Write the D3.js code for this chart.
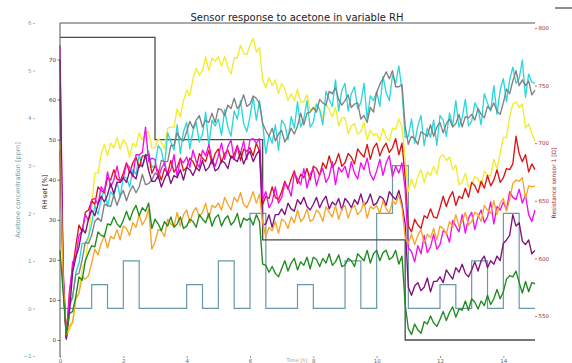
<!DOCTYPE html>
<html><head><meta charset="utf-8">
<script src="https://cdn.jsdelivr.net/npm/d3@7"></script>
<style>body{margin:0;background:#fff}svg{display:block}text{font-family:"DejaVu Sans",sans-serif}</style>
</head><body><svg id="c" width="572" height="363"></svg>
<script>
const title = "Sensor response to acetone in variable RH";
const xTicks = [0, 2, 4, 6, 8, 10, 12, 14];
const acetoneTicks = [-1, 0, 1, 2, 3, 4, 5, 6];
const rhTicks = [0, 10, 20, 30, 40, 50, 60, 70];
const resTicks = [550, 600, 650, 700, 750, 800];

// RH set-point steps (time [h], RH [%])
const rhTime = [0, 3.0, 6.4, 10.9, 15.0];
const rhValue = [75.5, 50, 25, 0, 0];

// acetone concentration steps (time [h], ppm)
const acTime = [0, 1.0, 1.5, 2.0, 2.5, 4.0, 4.5, 5.0, 5.5, 6.0, 6.5, 7.5, 8.0, 9.0, 9.5, 10.0, 10.5, 11.0, 12.0, 12.5, 13.0, 13.5, 14.0, 14.5, 15.0];
const acValue = [0, 0.5, 0, 1, 0, 0.5, 0, 1, 0, 2, 0, 0.5, 0, 1, 0, 2, 3, 0, 0.5, 0, 1, 0, 2, 0, 0];

// sensor resistance [Ohm], one sample every 0.1 h from 0 to 15 h
const sampleStep = 0.1;
const yellow = [729,590,533,538,544,564,570,592,597,618, 645,674,674,691,699,689,700,696,705,695, 703,699,688,700,697,709,703,709,710,696, 696,704,701,695,713,714,714,730,723,737, 746,741,756,765,759,763,775,763,774,771, 775,767,775,766,760,774,774,785,778,777, 785,791,779,783,755,748,757,750,755,743, 752,747,737,743,737,747,736,736,742,729, 729,734,730,722,734,729,723,731,715,722, 722,708,715,717,708,710,718,703,711,707, 708,702,713,705,702,713,712,721,714,686, 658,669,661,671,677,666,675,672,680,673, 688,690,685,688,677,681,664,666,674,662, 664,671,669,662,676,672,672,686,678,691, 705,705,723,734,736,731,734,713,717,708, 702];
const cyan = [750,580,531,558,566,588,596,613,613,619, 630,646,638,651,660,645,658,654,667,653, 671,670,662,677,673,690,679,688,693,679, 681,698,694,680,709,701,694,716,691,710, 718,695,711,718,701,708,727,698,720,715, 721,707,729,714,706,728,721,737,717,710, 723,740,720,737,717,691,707,700,716,694, 720,716,703,723,713,736,714,721,737,714, 718,734,729,716,745,738,732,755,728,746, 752,728,743,749,730,735,752,721,741,737, 745,732,758,744,737,759,752,767,746,705, 706,721,700,715,724,698,713,705,720,698, 724,720,706,726,715,737,714,722,738,715, 719,735,730,716,743,735,728,750,725,746, 756,736,755,766,752,756,772,740,760,753, 752];
const grey = [740,575,530,560,567,586,587,599,614,613, 620,632,635,632,647,646,645,655,646,654, 659,650,658,663,657,662,673,664,665,668, 674,672,685,684,684,698,698,709,704,702, 710,719,713,720,724,714,720,718,726,718, 730,729,724,733,730,739,730,734,742,732, 734,741,739,734,717,711,706,713,702,708, 711,701,706,713,708,715,726,716,726,727, 731,727,738,735,733,745,743,748,738,733, 737,742,731,734,735,721,724,718,731,727, 744,751,756,762,756,763,749,749,751,715, 699,706,704,699,710,708,706,716,706,714, 718,709,717,721,714,717,725,714,723,722, 725,720,730,725,722,732,729,735,728,725, 735,747,743,754,763,750,755,750,754,742, 746];
const red = [694,585,532,572,591,611,629,623,640,642, 650,647,662,659,657,670,668,677,669,667, 674,683,674,683,688,679,689,689,690,674, 680,676,668,678,674,685,675,679,687,676, 679,687,684,678,691,687,684,694,682,691, 695,683,691,694,687,690,698,685,695,693, 696,689,700,693,647,654,652,662,653,651, 658,667,660,669,676,665,673,670,678,668, 680,678,672,683,678,689,679,683,691,680, 683,691,688,682,695,691,688,699,686,696, 700,689,696,700,692,696,704,690,700,670, 628,623,634,629,626,637,635,643,636,635, 644,654,645,653,658,646,654,652,661,653, 666,663,657,667,661,672,663,668,677,666, 670,678,677,682,706,691,684,690,675,682, 677];
const magenta = [785,590,531,568,597,601,620,624,638,633, 651,652,647,662,658,675,662,668,680,666, 670,682,679,671,690,690,692,714,684,687, 686,669,678,683,672,677,690,671,686,683, 688,679,694,684,679,694,689,699,686,680, 689,700,686,697,703,686,697,691,702,686, 703,704,700,704,651,658,644,649,662,648, 653,665,662,654,674,669,664,678,661,673, 678,663,673,678,666,671,684,664,679,675, 680,670,684,674,669,683,677,687,673,668, 676,686,672,683,689,671,680,674,683,660, 609,606,597,611,604,620,605,610,621,608, 612,624,622,614,633,628,623,638,622,635, 640,625,636,642,631,636,649,630,645,642, 649,642,658,653,651,660,648,655,638,632, 642];
const purple = [772,580,530,554,588,601,610,626,622,634, 642,637,647,654,649,655,665,656,666,666, 670,666,676,672,669,681,680,690,676,667, 667,672,662,669,675,665,672,670,677,668, 679,677,672,679,676,685,676,679,686,676, 678,685,683,678,689,686,684,692,682,689, 693,684,690,694,629,630,638,627,638,638, 643,638,648,643,641,651,647,653,645,642, 647,653,644,650,654,643,649,646,652,642, 652,649,644,651,647,656,646,649,656,646, 648,654,652,646,658,654,651,659,647,630, 575,568,576,579,572,575,583,571,580,580, 584,579,590,586,582,592,588,595,587,584, 590,597,589,598,602,592,598,595,602,598, 613,616,620,638,628,631,615,612,616,604, 607];
const orange = [702,580,534,541,545,565,570,584,582,585, 596,608,603,613,620,609,619,617,625,616, 628,626,620,631,627,638,629,634,643,608, 614,625,624,619,634,630,628,640,628,638, 642,631,640,644,636,640,648,635,646,644, 648,642,653,647,642,653,649,657,647,644, 650,658,648,656,631,619,627,624,632,622, 634,632,626,636,631,642,632,635,643,632, 634,642,639,632,645,640,636,646,634,643, 646,635,643,646,638,641,649,635,645,643, 646,639,650,643,639,650,647,655,644,618, 613,621,612,620,625,613,621,618,626,616, 628,626,621,632,627,638,628,632,640,629, 632,640,638,632,646,642,639,650,638,648, 652,641,651,665,668,667,670,652,663,662, 663];
const green = [607,570,535,552,554,567,584,581,598,605, 611,610,623,620,619,630,629,636,630,627, 633,641,633,641,646,637,644,641,648,626, 634,630,624,632,628,636,627,630,636,626, 628,634,632,627,638,634,631,639,628,635, 638,628,634,637,629,632,639,627,635,633, 635,629,638,632,595,594,588,593,587,584, 591,598,589,596,600,590,597,594,601,591, 601,599,593,600,596,604,594,597,603,593, 594,600,598,593,604,601,598,607,596,604, 607,598,605,607,599,601,607,595,602,560, 539,534,543,538,535,545,543,550,544,541, 547,554,546,553,558,549,556,555,563,555, 565,562,556,563,559,568,560,565,573,565, 571,582,585,584,589,579,570,580,571,579, 578];

const sensorSeries = [yellow, cyan, grey, red, magenta, purple, orange, green];
const sensorColors = ["#f2ec2e", "#2ad8dc", "#808080", "#dd1414", "#f010ee", "#80107e", "#f5a52a", "#1e8a1e"];

const svg = d3.select("#c");
const x = d3.scaleLinear().domain([0, 15]).range([60, 535]);
const yAc = d3.scaleLinear().domain([-1, 6]).range([356, 23]);
const yRH = d3.scaleLinear().domain([0, 70]).range([340, 59.5]);
const yRes = d3.scaleLinear().domain([550, 800]).range([316, 28]);

// acetone step line
const acPts = acTime.map((t, i) => [t, acValue[i]]);
svg.append("path").datum(acPts)
  .attr("fill", "none").attr("stroke", "#6b98a8").attr("stroke-width", 1.2)
  .attr("d", d3.line().curve(d3.curveStepAfter).x(d => x(d[0])).y(d => yAc(d[1])));

// RH step line
const rhPts = rhTime.map((t, i) => [t, rhValue[i]]);
svg.append("path").datum(rhPts)
  .attr("fill", "none").attr("stroke", "#4a4a4a").attr("stroke-width", 1.3)
  .attr("d", d3.line().curve(d3.curveStepAfter).x(d => x(d[0])).y(d => yRH(d[1])));

// sensor lines
const line = d3.line().x((d, i) => x(i * sampleStep)).y(d => yRes(d));
sensorSeries.forEach((s, k) => {
  svg.append("path").datum(s)
    .attr("fill", "none").attr("stroke", sensorColors[k]).attr("stroke-width", 1.35)
    .attr("stroke-linejoin", "round")
    .attr("d", line);
});

// frame lines
svg.append("line").attr("x1", 60).attr("x2", 535).attr("y1", 23).attr("y2", 23).attr("stroke", "#555").attr("stroke-width", 1.2);
svg.append("line").attr("x1", 60).attr("x2", 60).attr("y1", 23).attr("y2", 357).attr("stroke", "#555").attr("stroke-width", 1);
svg.append("line").attr("x1", 555).attr("x2", 572).attr("y1", 8).attr("y2", 8).attr("stroke", "#444").attr("stroke-width", 1.2);

function styleAxis(g, color) {
  g.select(".domain").remove();
  g.selectAll(".tick line").attr("stroke", color).attr("stroke-width", 0.7);
  g.selectAll(".tick text").attr("fill", color).style("font-size", "5.5px").style("font-family", "DejaVu Sans");
}
const gAc = svg.append("g").attr("transform", "translate(35,0)")
  .call(d3.axisLeft(yAc).tickValues(acetoneTicks).tickSize(2).tickPadding(1.5).tickFormat(d3.format("d")));
styleAxis(gAc, "#6f9fb0");
const gRH = svg.append("g").attr("transform", "translate(60,0)")
  .call(d3.axisLeft(yRH).tickValues(rhTicks).tickSize(2.5).tickPadding(1.5));
styleAxis(gRH, "#333");
const gRes = svg.append("g").attr("transform", "translate(535,0)")
  .call(d3.axisRight(yRes).tickValues(resTicks).tickSize(2).tickPadding(1.5));
styleAxis(gRes, "#a02a2a");
const gX = svg.append("g").attr("transform", "translate(0,356)")
  .call(d3.axisBottom(x).tickValues(xTicks).tickSize(2).tickPadding(1));
styleAxis(gX, "#666");

// titles / labels
svg.append("text").attr("x", 297).attr("y", 21).attr("text-anchor", "middle")
  .style("font-size", "10px").attr("fill", "#222").text(title);
svg.append("text").attr("transform", "translate(20,190) rotate(-90)").attr("text-anchor", "middle")
  .style("font-size", "6.5px").attr("fill", "#6f9fb0").text("Acetone concentration [ppm]");
svg.append("text").attr("transform", "translate(47,192) rotate(-90)").attr("text-anchor", "middle")
  .style("font-size", "6.5px").attr("fill", "#222").text("RH set [%]");
svg.append("text").attr("transform", "translate(556,183) rotate(-90)").attr("text-anchor", "middle")
  .style("font-size", "6px").attr("fill", "#a02a2a").text("Resistance sensor 1 [Ω]");
svg.append("text").attr("x", 297).attr("y", 362).attr("text-anchor", "middle")
  .style("font-size", "5px").attr("fill", "#999").text("Time [h]");
</script></body></html>
